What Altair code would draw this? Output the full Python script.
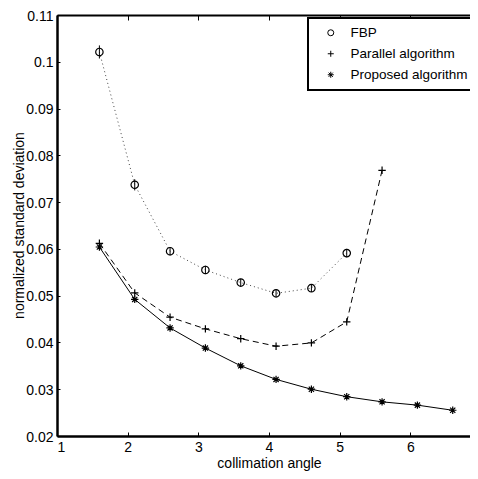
import altair as alt
import pandas as pd

series_names = ["FBP", "Parallel algorithm", "Proposed algorithm"]

x_fbp = [1.6, 2.1, 2.6, 3.1, 3.6, 4.1, 4.6, 5.1]
y_fbp = [0.1021, 0.0737, 0.0595, 0.0555, 0.0528, 0.0505, 0.0516, 0.0591]
err_fbp = [0.0014, 0.0012, 0.0009, 0.0009, 0.0008, 0.0008, 0.0008, 0.0009]

x_par = [1.6, 2.1, 2.6, 3.1, 3.6, 4.1, 4.6, 5.1, 5.6]
y_par = [0.0612, 0.0506, 0.0454, 0.0429, 0.0408, 0.0392, 0.0399, 0.0444, 0.0768]

x_prop = [1.6, 2.1, 2.6, 3.1, 3.6, 4.1, 4.6, 5.1, 5.6, 6.1, 6.6]
y_prop = [0.0604, 0.0492, 0.0431, 0.0388, 0.0350, 0.0321, 0.0300, 0.0284, 0.0273, 0.0266, 0.0255]

x_ticks = [1, 2, 3, 4, 5, 6, 7]
y_ticks = [0.02, 0.03, 0.04, 0.05, 0.06, 0.07, 0.08, 0.09, 0.10, 0.11]

rows = []
for xs, ys, name in [(x_fbp, y_fbp, series_names[0]), (x_par, y_par, series_names[1]), (x_prop, y_prop, series_names[2])]:
    for a, b in zip(xs, ys):
        rows.append({"x": a, "y": b, "series": name})
df = pd.DataFrame(rows)

err_df = pd.DataFrame({
    "x": x_fbp,
    "lo": [v - e for v, e in zip(y_fbp, err_fbp)],
    "hi": [v + e for v, e in zip(y_fbp, err_fbp)],
})

FONT = "Liberation Sans"
# the x axis runs past the right edge of the picture, as in the reference
xscale = alt.Scale(domain=[1, 7], nice=False, zero=False, range=[0, 424])
yscale = alt.Scale(domain=[0.02, 0.11], nice=False, zero=False)

x_main_axis = alt.Axis(values=x_ticks, format="d", labelFont=FONT, labelFontSize=14, labelColor="black",
                       tickSize=alt.ExprRef("-4"), tickColor="black", labelPadding=8,
                       domainColor="black", domainWidth=2.5, grid=False,
                       title="collimation angle", titleFont=FONT, titleFontSize=14, titleFontWeight="normal",
                       titleColor="black", titleBaseline="alphabetic", titleX=212, titleY=31)
y_main_axis = alt.Axis(values=y_ticks, format=".2~f", labelFont=FONT, labelFontSize=14, labelColor="black",
                       tickSize=alt.ExprRef("-3"), tickColor="black", labelPadding=7, labelOffset=1,
                       domainColor="black", domainWidth=2.5, grid=False,
                       title="normalized standard deviation", titleFont=FONT, titleFontSize=14,
                       titleFontWeight="normal", titleColor="black", titleBaseline="alphabetic",
                       titleX=-34, titleY=210, titleAngle=-90)
x_top_axis = alt.Axis(orient="top", values=x_ticks, labels=False, title=None, tickSize=alt.ExprRef("-5"),
                      tickColor="black", domainColor="black", domainWidth=2, grid=False)

base = alt.Chart(df)

line_fbp = base.transform_filter(alt.datum.series == series_names[0]).mark_line(
    color="#444444", strokeWidth=1, strokeDash=[1, 3]).encode(
    x=alt.X("x:Q", scale=xscale, axis=x_main_axis),
    y=alt.Y("y:Q", scale=yscale, axis=y_main_axis),
)
line_par = base.transform_filter(alt.datum.series == series_names[1]).mark_line(
    color="black", strokeWidth=1, strokeDash=[6, 4]).encode(
    x=alt.X("x:Q", scale=xscale, axis=None),
    y=alt.Y("y:Q", scale=yscale, axis=None),
)
line_prop = base.transform_filter(alt.datum.series == series_names[2]).mark_line(
    color="black", strokeWidth=1).encode(
    x=alt.X("x:Q", scale=xscale, axis=None),
    y=alt.Y("y:Q", scale=yscale, axis=None),
)

plus_path = "M-1,0L1,0M0,-1L0,1"
star_path = "M-1,0L1,0M0,-1L0,1M-0.7,-0.7L0.7,0.7M-0.7,0.7L0.7,-0.7"

points = base.mark_point(filled=False, color="black", strokeWidth=1.2, size=55, opacity=1).encode(
    x=alt.X("x:Q", scale=xscale, axis=None),
    y=alt.Y("y:Q", scale=yscale, axis=None),
    shape=alt.Shape("series:N",
                    scale=alt.Scale(domain=series_names, range=["circle", plus_path, star_path]),
                    legend=alt.Legend(title=None, orient="none", legendX=251, legendY=3,
                                      strokeColor="black", fillColor="white", padding=8,
                                      labelFont=FONT, labelFontSize=13.5, labelColor="black",
                                      symbolStrokeColor="black", symbolFillColor="transparent",
                                      symbolStrokeWidth=1, symbolSize=36, rowPadding=6,
                                      symbolOffset=8, labelOffset=13)),
)

errbars = alt.Chart(err_df).mark_rule(color="black", strokeWidth=1).encode(
    x=alt.X("x:Q", scale=xscale, axis=x_top_axis),
    y=alt.Y("lo:Q", scale=yscale, axis=None),
    y2="hi:Q",
)

chart = alt.layer(line_fbp, line_par, line_prop, errbars, points).resolve_axis(
    x="independent", y="independent"
).properties(
    width=405, height=421, autosize="none",
    padding={"left": 49, "top": 7, "right": 8, "bottom": 35},
    background="white",
).configure_view(stroke=None).configure_legend(strokeWidth=2)

chart.save("out.html", embed_options={"renderer": "svg", "actions": False})
